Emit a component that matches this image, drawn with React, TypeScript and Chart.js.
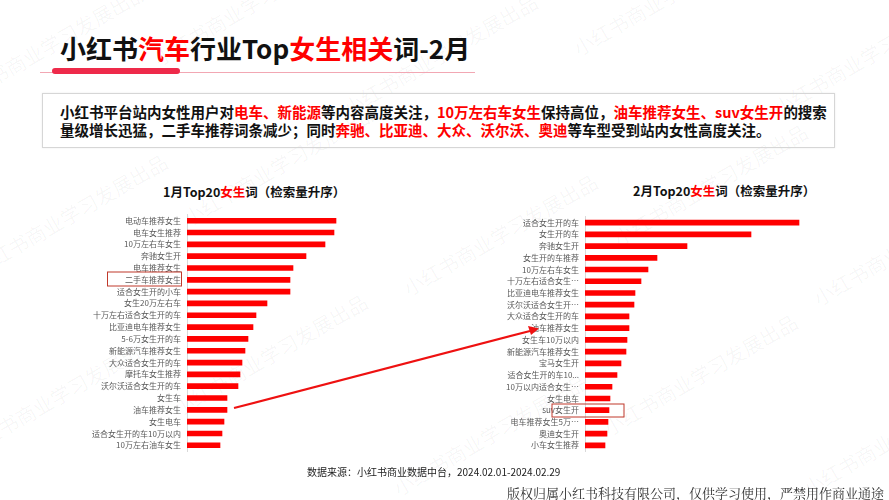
import React, { useEffect, useRef } from "react";
import { Chart, registerables } from "chart.js";

Chart.register(...registerables);

const FONT = '"Noto Sans CJK SC", "Noto Sans", sans-serif';
const RED = "#ff0000";

// 1月 Top20 女生词 (top -> bottom)
const JAN_LABELS = [
  "电动车推荐女生",
  "电车女生推荐",
  "10万左右车女生",
  "奔驰女生开",
  "电车推荐女生",
  "二手车推荐女生",
  "适合女生开的小车",
  "女生20万左右车",
  "十万左右适合女生开的车",
  "比亚迪电车推荐女生",
  "5-6万女生开的车",
  "新能源汽车推荐女生",
  "大众适合女生开的车",
  "摩托车女生推荐",
  "沃尔沃适合女生开的车",
  "女生车",
  "油车推荐女生",
  "女生电车",
  "适合女生开的车10万以内",
  "10万左右油车女生",
];
const JAN_VALUES = [149, 147, 138, 119, 106, 103, 103, 80, 69, 66, 61, 58, 55, 53, 51, 40, 40, 37, 35, 33];

// 2月 Top20 女生词 (top -> bottom)
const FEB_LABELS = [
  "适合女生开的车",
  "女生开的车",
  "奔驰女生开",
  "女生开的车推荐",
  "10万左右车女生",
  "十万左右适合女生…",
  "比亚迪电车推荐女生",
  "沃尔沃适合女生开…",
  "大众适合女生开的车",
  "油车推荐女生",
  "女生车10万以内",
  "新能源汽车推荐女生",
  "宝马女生开",
  "适合女生开的车10...",
  "10万以内适合女生…",
  "女生电车",
  "suv女生开",
  "电车推荐女生5万…",
  "奥迪女生开",
  "小车女生推荐",
];
const FEB_VALUES = [214, 166, 102, 72, 63, 56, 50, 49, 44, 44, 42, 41, 36, 32, 27, 25, 24, 23, 22, 20];

type BarProps = {
  labels: string[];
  values: number[];
  left: number;
  top: number;
  axisWidth: number;
  plotWidth: number;
  height: number;
};

function BarChart(p: BarProps) {
  const ref = useRef<HTMLCanvasElement | null>(null);
  useEffect(() => {
    if (!ref.current) return;
    const chart = new Chart(ref.current, {
      type: "bar",
      data: {
        labels: p.labels,
        datasets: [
          {
            data: p.values,
            backgroundColor: RED,
            borderWidth: 0,
            barThickness: 5,
          },
        ],
      },
      options: {
        indexAxis: "y",
        responsive: false,
        maintainAspectRatio: false,
        animation: false,
        devicePixelRatio: 1,
        layout: { padding: 0 },
        plugins: { legend: { display: false }, tooltip: { enabled: false } },
        scales: {
          x: { display: false, min: 0, max: p.plotWidth },
          y: {
            afterFit: (s: any) => {
              s.width = p.axisWidth;
            },
            grid: { display: false, drawTicks: false },
            border: { display: true, color: "#d9d9d9", width: 1 },
            ticks: {
              autoSkip: false,
              padding: 6,
              color: "#595959",
              font: { size: 8, family: FONT },
            },
          },
        },
      },
    });
    return () => chart.destroy();
  }, []);
  const w = p.axisWidth + p.plotWidth;
  return (
    <canvas
      ref={ref}
      width={w}
      height={p.height}
      style={{ position: "absolute", left: p.left, top: p.top, width: w, height: p.height }}
    />
  );
}

const WATERMARKS = [
  [-60, 30], [140, -10], [330, 40], [560, -20], [760, 40],
  [-40, 200], [170, 150], [390, 220], [600, 170], [800, 230],
  [-50, 380], [160, 340], [380, 420], [590, 360], [790, 420],
];

export default function App() {
  useEffect(() => {
    document.body.style.margin = "0";
  }, []);
  const red = { color: "#ff0000" };
  return (
    <div
      style={{
        position: "absolute",
        left: 0,
        top: 0,
        width: 889,
        height: 500,
        background: "#ffffff",
        overflow: "hidden",
        fontFamily: FONT,
      }}
    >
      {WATERMARKS.map(([x, y], i) => (
        <div
          key={i}
          style={{
            position: "absolute",
            left: x,
            top: y,
            fontSize: 20,
            color: "rgba(0,0,0,0.04)",
            transform: "rotate(-30deg)",
            whiteSpace: "nowrap",
            pointerEvents: "none",
          }}
        >
          小红书商业学习发展出品
        </div>
      ))}

      {/* Title */}
      <div
        style={{
          position: "absolute",
          left: 60,
          top: 33,
          fontSize: 26,
          fontWeight: 700,
          color: "#111",
          whiteSpace: "nowrap",
          lineHeight: "30px",
        }}
      >
        小红书<span style={red}>汽车</span>行业Top<span style={red}>女生相关</span>词-2月
      </div>
      <div style={{ position: "absolute", left: 40, top: 72, width: 435, height: 1, background: "#f2a7b3" }} />
      <div style={{ position: "absolute", left: 52, top: 68, width: 128, height: 6, background: "#ee2a4a", borderRadius: 3 }} />

      {/* Summary box */}
      <div
        style={{
          position: "absolute",
          left: 42,
          top: 93,
          width: 793,
          height: 55,
          border: "1px solid #d6d6d6",
          boxSizing: "border-box",
          boxShadow: "0 0 2px rgba(0,0,0,0.08)",
        }}
      />
      <div
        style={{
          position: "absolute",
          left: 60,
          top: 103,
          fontSize: 14.5,
          fontWeight: 700,
          lineHeight: "18px",
          color: "#111",
          whiteSpace: "nowrap",
        }}
      >
        小红书平台站内女性用户对<span style={red}>电车、新能源</span>等内容高度关注，<span style={red}>10万左右车女生</span>保持高位，<span style={red}>油车推荐女生、suv女生开</span>的搜索
        <br />
        量级增长迅猛，二手车推荐词条减少；同时<span style={red}>奔驰、比亚迪、大众、沃尔沃、奥迪</span>等车型受到站内女性高度关注。
      </div>

      {/* chart titles */}
      <div style={{ position: "absolute", left: 163, top: 184, fontSize: 12.5, fontWeight: 700, color: "#111", whiteSpace: "nowrap", lineHeight: "16px" }}>
        1月Top20<span style={red}>女生</span>词（检索量升序）
      </div>
      <div style={{ position: "absolute", left: 633, top: 183, fontSize: 12.5, fontWeight: 700, color: "#111", whiteSpace: "nowrap", lineHeight: "16px" }}>
        2月Top20<span style={red}>女生</span>词（检索量升序）
      </div>

      <BarChart labels={JAN_LABELS} values={JAN_VALUES} left={80} top={204} axisWidth={107} plotWidth={170} height={258} />
      <BarChart labels={FEB_LABELS} values={FEB_VALUES} left={480} top={206} axisWidth={105} plotWidth={230} height={256} />

      {/* annotations */}
      <svg width={889} height={500} style={{ position: "absolute", left: 0, top: 0, pointerEvents: "none" }}>
        <rect x={107.5} y={272} width={74} height={14} fill="none" stroke="#c0392b" strokeWidth={1} />
        <rect x={552} y={404} width={72} height={13} fill="none" stroke="#c0392b" strokeWidth={1} />
        <line x1={234} y1={408} x2={530} y2={331} stroke="#ee1111" strokeWidth={2.2} />
        <polygon points="539,328.5 528,326 531,335" fill="#ee1111" />
      </svg>

      {/* footer */}
      <div style={{ position: "absolute", left: 307, top: 465, fontSize: 10, color: "#222", whiteSpace: "nowrap", lineHeight: "14px" }}>
        数据来源：小红书商业数据中台，2024.02.01-2024.02.29
      </div>
      <div
        style={{
          position: "absolute",
          left: 507,
          top: 485,
          fontSize: 13,
          color: "#333",
          whiteSpace: "nowrap",
          lineHeight: "16px",
          fontFamily: '"Noto Serif CJK SC", "Liberation Serif", serif',
        }}
      >
        版权归属小红书科技有限公司，仅供学习使用，严禁用作商业通途
      </div>
    </div>
  );
}
